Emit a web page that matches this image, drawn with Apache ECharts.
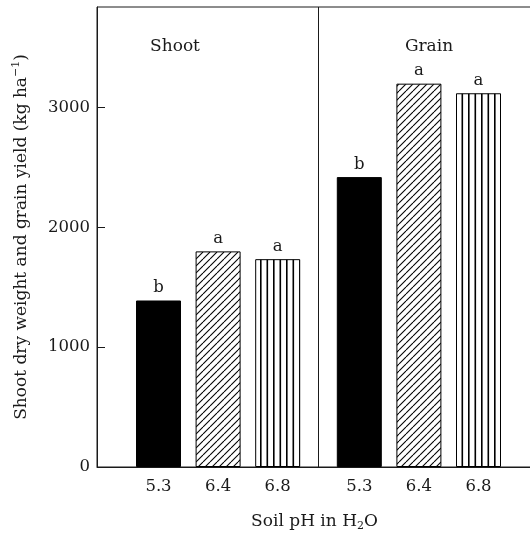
<!DOCTYPE html>
<html>
<head>
<meta charset="utf-8">
<script src="https://cdn.jsdelivr.net/npm/echarts@6/dist/echarts.min.js"></script>
<style>
  html, body { margin: 0; padding: 0; background: #fff; }
  #chart { width: 530px; height: 534px; }
</style>
</head>
<body>
<div id="chart"></div>
<script>
// pH levels shown under each panel
const phLevels = ['5.3', '6.4', '6.8'];
// Shoot dry weight (kg/ha) by soil pH
const shootValues = [1390, 1800, 1735];
// Grain yield (kg/ha) by soil pH
const grainValues = [2420, 3200, 3120];
// Significance letters over the bars
const shootLetters = ['b', 'a', 'a'];
const grainLetters = ['b', 'a', 'a'];
// Y axis range and tick spacing
const yMax = 3840;
const yStep = 1000;

const FONT = 'DejaVu Serif';
const FS = 16.5;
const INK = '#1a1a1a';

// Fill patterns: diagonal hatch and vertical stripes
function hatchPattern() {
  const c = document.createElement('canvas');
  const s = 7;
  c.width = s; c.height = s;
  const g = c.getContext('2d');
  g.fillStyle = '#fff';
  g.fillRect(0, 0, s, s);
  g.strokeStyle = '#000';
  g.lineWidth = 1.1;
  for (let k = -1; k <= 1; k++) {
    g.beginPath();
    g.moveTo(k * s, s);
    g.lineTo(k * s + s, 0);
    g.stroke();
  }
  return c;
}
function stripePattern() {
  const c = document.createElement('canvas');
  c.width = 13; c.height = 4;
  const g = c.getContext('2d');
  g.fillStyle = '#fff';
  g.fillRect(0, 0, 13, 4);
  g.fillStyle = '#000';
  g.fillRect(0, 0, 1.6, 4);
  g.fillRect(6.5, 0, 1.6, 4);
  return c;
}
const fills = [
  { color: '#000', borderColor: '#000', borderWidth: 1 },
  { color: { image: hatchPattern(), repeat: 'repeat' }, borderColor: '#000', borderWidth: 1 },
  { color: { image: stripePattern(), repeat: 'repeat' }, borderColor: '#000', borderWidth: 1 }
];

function barData(values, letters) {
  return values.map((v, i) => ({
    value: v,
    itemStyle: fills[i],
    label: { formatter: letters[i] }
  }));
}

// Plot frame geometry
const TOP = 7, BOTTOM = 67, LEFT = 97;
const PANEL_W = 178.8;
const P1_LEFT = 128.7, P2_LEFT = 329.5;
const dividerX = (P1_LEFT + PANEL_W + P2_LEFT) / 2;

const chart = echarts.init(document.getElementById('chart'), null, { renderer: 'canvas' });

const panelX = (gridIndex) => ({
  type: 'category', gridIndex, data: phLevels,
  axisLine: { show: false }, axisTick: { show: false },
  axisLabel: { show: true, margin: 11, color: INK, fontFamily: FONT, fontSize: FS }
});
const panelY = (gridIndex) => ({
  type: 'value', gridIndex, min: 0, max: yMax, interval: yStep, show: false
});

const barSeries = (idx, values, letters) => ({
  type: 'bar', xAxisIndex: idx, yAxisIndex: idx,
  barWidth: 45,
  data: barData(values, letters),
  label: {
    show: true, position: 'top', distance: 4,
    color: INK, fontFamily: FONT, fontSize: FS
  },
  emphasis: { disabled: true },
  animation: false
});

chart.setOption({
  animation: false,
  grid: [
    { left: LEFT, right: -2, top: TOP, bottom: BOTTOM, show: true, borderColor: INK, borderWidth: 1, outerBoundsMode: 'none', containLabel: false },
    { left: P1_LEFT, width: PANEL_W, top: TOP, bottom: BOTTOM, outerBoundsMode: 'none', containLabel: false },
    { left: P2_LEFT, width: PANEL_W, top: TOP, bottom: BOTTOM, outerBoundsMode: 'none', containLabel: false }
  ],
  xAxis: [
    {
      type: 'value', gridIndex: 0, min: 0, max: 1,
      axisLine: { show: true, lineStyle: { color: INK, width: 1 } },
      axisTick: { show: false }, axisLabel: { show: false }, splitLine: { show: false },
      name: '{t|Soil pH in H}{s|2}{t|O}',
      nameLocation: 'middle', nameGap: 44,
      nameTextStyle: {
        rich: {
          t: { fontFamily: FONT, fontSize: 17, color: INK },
          s: { fontFamily: FONT, fontSize: 11, color: INK, padding: [10, 0, 0, 0] }
        }
      }
    },
    panelX(1),
    panelX(2)
  ],
  yAxis: [
    {
      type: 'value', gridIndex: 0, min: 0, max: yMax, interval: yStep,
      axisLine: { show: true, lineStyle: { color: INK, width: 1 } },
      axisTick: { show: true, inside: true, length: 8, lineStyle: { color: INK } },
      axisLabel: { margin: 7, color: INK, fontFamily: FONT, fontSize: FS, showMaxLabel: false,
                   formatter: (v) => String(v) },
      splitLine: { show: false },
      name: '{t|Shoot dry weight and grain yield (kg ha}{s|\u22121}{t|)}',
      nameLocation: 'middle', nameGap: 65,
      nameTextStyle: {
        rich: {
          t: { fontFamily: FONT, fontSize: 17, color: INK },
          s: { fontFamily: FONT, fontSize: 11, color: INK, padding: [0, 0, 10, 0] }
        }
      }
    },
    panelY(1),
    panelY(2)
  ],
  series: [
    barSeries(1, shootValues, shootLetters),
    barSeries(2, grainValues, grainLetters)
  ],
  graphic: [
    {
      type: 'line', silent: true,
      shape: { x1: dividerX, y1: TOP, x2: dividerX, y2: 534 - BOTTOM },
      style: { stroke: INK, lineWidth: 1 }
    },
    {
      type: 'text', silent: true, x: 175, y: 47,
      style: { text: 'Shoot', fontFamily: FONT, fontSize: 17, fill: INK, align: 'center', verticalAlign: 'middle' }
    },
    {
      type: 'text', silent: true, x: 429, y: 47,
      style: { text: 'Grain', fontFamily: FONT, fontSize: 17, fill: INK, align: 'center', verticalAlign: 'middle' }
    }
  ]
});
</script>
</body>
</html>
